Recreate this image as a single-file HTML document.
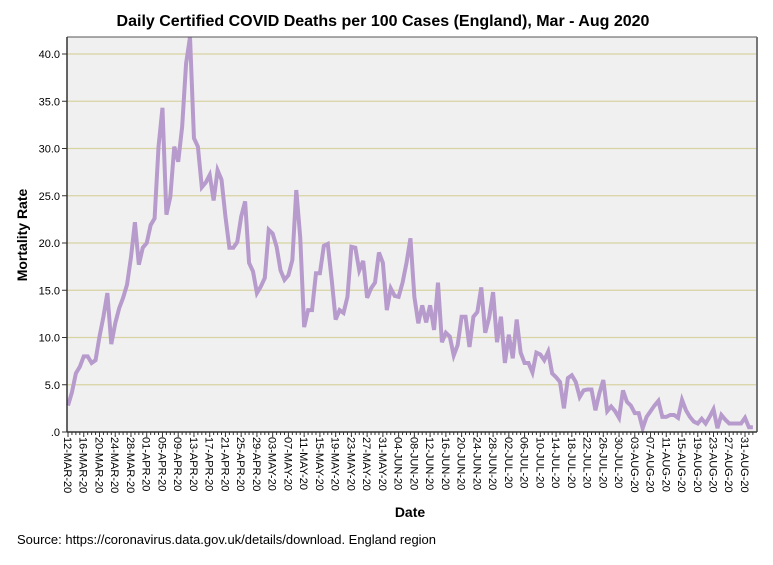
<!DOCTYPE html>
<html><head><meta charset="utf-8"><style>
body{margin:0;background:#fff;width:773px;height:560px;overflow:hidden;font-family:"Liberation Sans",sans-serif}
</style></head><body>
<svg id="chart" width="773" height="560" xmlns="http://www.w3.org/2000/svg">
<text x="383" y="26" text-anchor="middle" font-size="16" font-weight="bold">Daily Certified COVID Deaths per 100 Cases (England), Mar - Aug 2020</text>
<rect x="67" y="37" width="690" height="395" fill="#f0f0f0"/>
<g id="grid"></g>
<g id="series"></g>
<line x1="67" y1="37" x2="757" y2="37" stroke="#555" stroke-width="1"/>
<line x1="757" y1="37" x2="757" y2="432" stroke="#777" stroke-width="2"/>
<line x1="67" y1="37" x2="67" y2="432" stroke="#333" stroke-width="1.5"/>
<line x1="67" y1="432" x2="757" y2="432" stroke="#333" stroke-width="1.5"/>
<g id="yticks"></g>
<g id="xticks"></g>
<text x="410" y="517" text-anchor="middle" font-size="14" font-weight="bold">Date</text>
<text transform="translate(27,235) rotate(-90)" text-anchor="middle" font-size="14" font-weight="bold">Mortality Rate</text>
<text x="17" y="544" font-size="13" textLength="419">Source: https://coronavirus.data.gov.uk/details/download. England region</text>
</svg>
<script>
const yTicks=[0,5,10,15,20,25,30,35,40];
const yTickLabels=[".0","5.0","10.0","15.0","20.0","25.0","30.0","35.0","40.0"];
const startDate=[2020,2,12];
const values=[2.8,4.2,6.2,6.9,8.0,8.0,7.3,7.6,10.1,12.2,14.7,9.3,11.5,13.1,14.2,15.6,18.5,22.2,17.7,19.5,20.0,21.9,22.6,30.2,34.3,23.0,24.9,30.2,28.6,32.3,39.0,41.8,31.1,30.2,25.9,26.4,27.2,24.5,27.7,26.7,22.8,19.5,19.5,20.1,22.8,24.4,17.9,17.0,14.7,15.4,16.3,21.4,21.0,19.6,17.1,16.1,16.6,18.2,25.6,20.6,11.1,12.9,12.9,16.8,16.8,19.7,19.9,16.1,11.9,12.9,12.6,14.3,19.6,19.5,17.1,18.1,14.2,15.2,15.8,19.0,17.9,12.9,15.2,14.4,14.3,15.8,17.9,20.5,14.3,11.5,13.4,11.6,13.4,10.8,15.8,9.5,10.5,10.1,8.1,9.2,12.2,12.2,9.0,12.2,12.7,15.3,10.5,12.1,14.8,9.5,12.2,7.3,10.3,7.8,11.9,8.4,7.3,7.3,6.3,8.4,8.2,7.6,8.5,6.2,5.8,5.3,2.5,5.7,6.0,5.3,3.7,4.4,4.5,4.5,2.3,4.1,5.5,2.2,2.7,2.2,1.5,4.4,3.2,2.8,2.0,2.0,0.4,1.6,2.2,2.8,3.3,1.6,1.6,1.8,1.8,1.5,3.4,2.3,1.6,1.1,0.9,1.4,0.9,1.6,2.4,0.4,1.8,1.3,0.9,0.9,0.9,0.9,1.5,0.5,0.5];
const NS="http://www.w3.org/2000/svg";
const x0=68,dx=3.936,yBase=432,yScale=9.45;
const X=i=>x0+dx*i, Y=v=>yBase-v*yScale;
function mk(t,a,p){const e=document.createElementNS(NS,t);for(const k in a)e.setAttribute(k,a[k]);p.appendChild(e);return e;}
const grid=document.getElementById('grid'),yt=document.getElementById('yticks'),xt=document.getElementById('xticks'),ser=document.getElementById('series');
yTicks.forEach((v,k)=>{
  if(v>0){const g=mk('line',{x1:67,x2:757,y1:Y(v),y2:Y(v),stroke:'#d8d3a3','stroke-width':1.2},grid);
  
  }
  mk('line',{x1:62,x2:67,y1:Y(v),y2:Y(v),stroke:'#333'},yt);
  const t=mk('text',{x:60,y:Y(v)+4,'text-anchor':'end','font-size':11},yt);
  t.textContent=yTickLabels[k];
  
  
});
const mon=['JAN','FEB','MAR','APR','MAY','JUN','JUL','AUG','SEP','OCT','NOV','DEC'];
for(let i=0;i<values.length;i++){
  const x=X(i);
  if(i%4===0){
    mk('line',{x1:x,x2:x,y1:432,y2:437,stroke:'#333'},xt);
    const d=new Date(startDate[0],startDate[1],startDate[2]+i);
    const lab=String(d.getDate()).padStart(2,'0')+'-'+mon[d.getMonth()]+'-20';
    const t=mk('text',{transform:`translate(${x-4},437) rotate(90)`,'font-size':11},xt);
    t.textContent=lab;
    
    
  } else {
    mk('line',{x1:x,x2:x,y1:432,y2:435,stroke:'#333'},xt);
  }
}
const p=mk('polyline',{points:values.map((v,i)=>X(i)+','+Y(v)).join(' '),fill:'none',stroke:'#b79bcc','stroke-width':4,'stroke-linejoin':'miter'},ser);


</script>
</body></html>
